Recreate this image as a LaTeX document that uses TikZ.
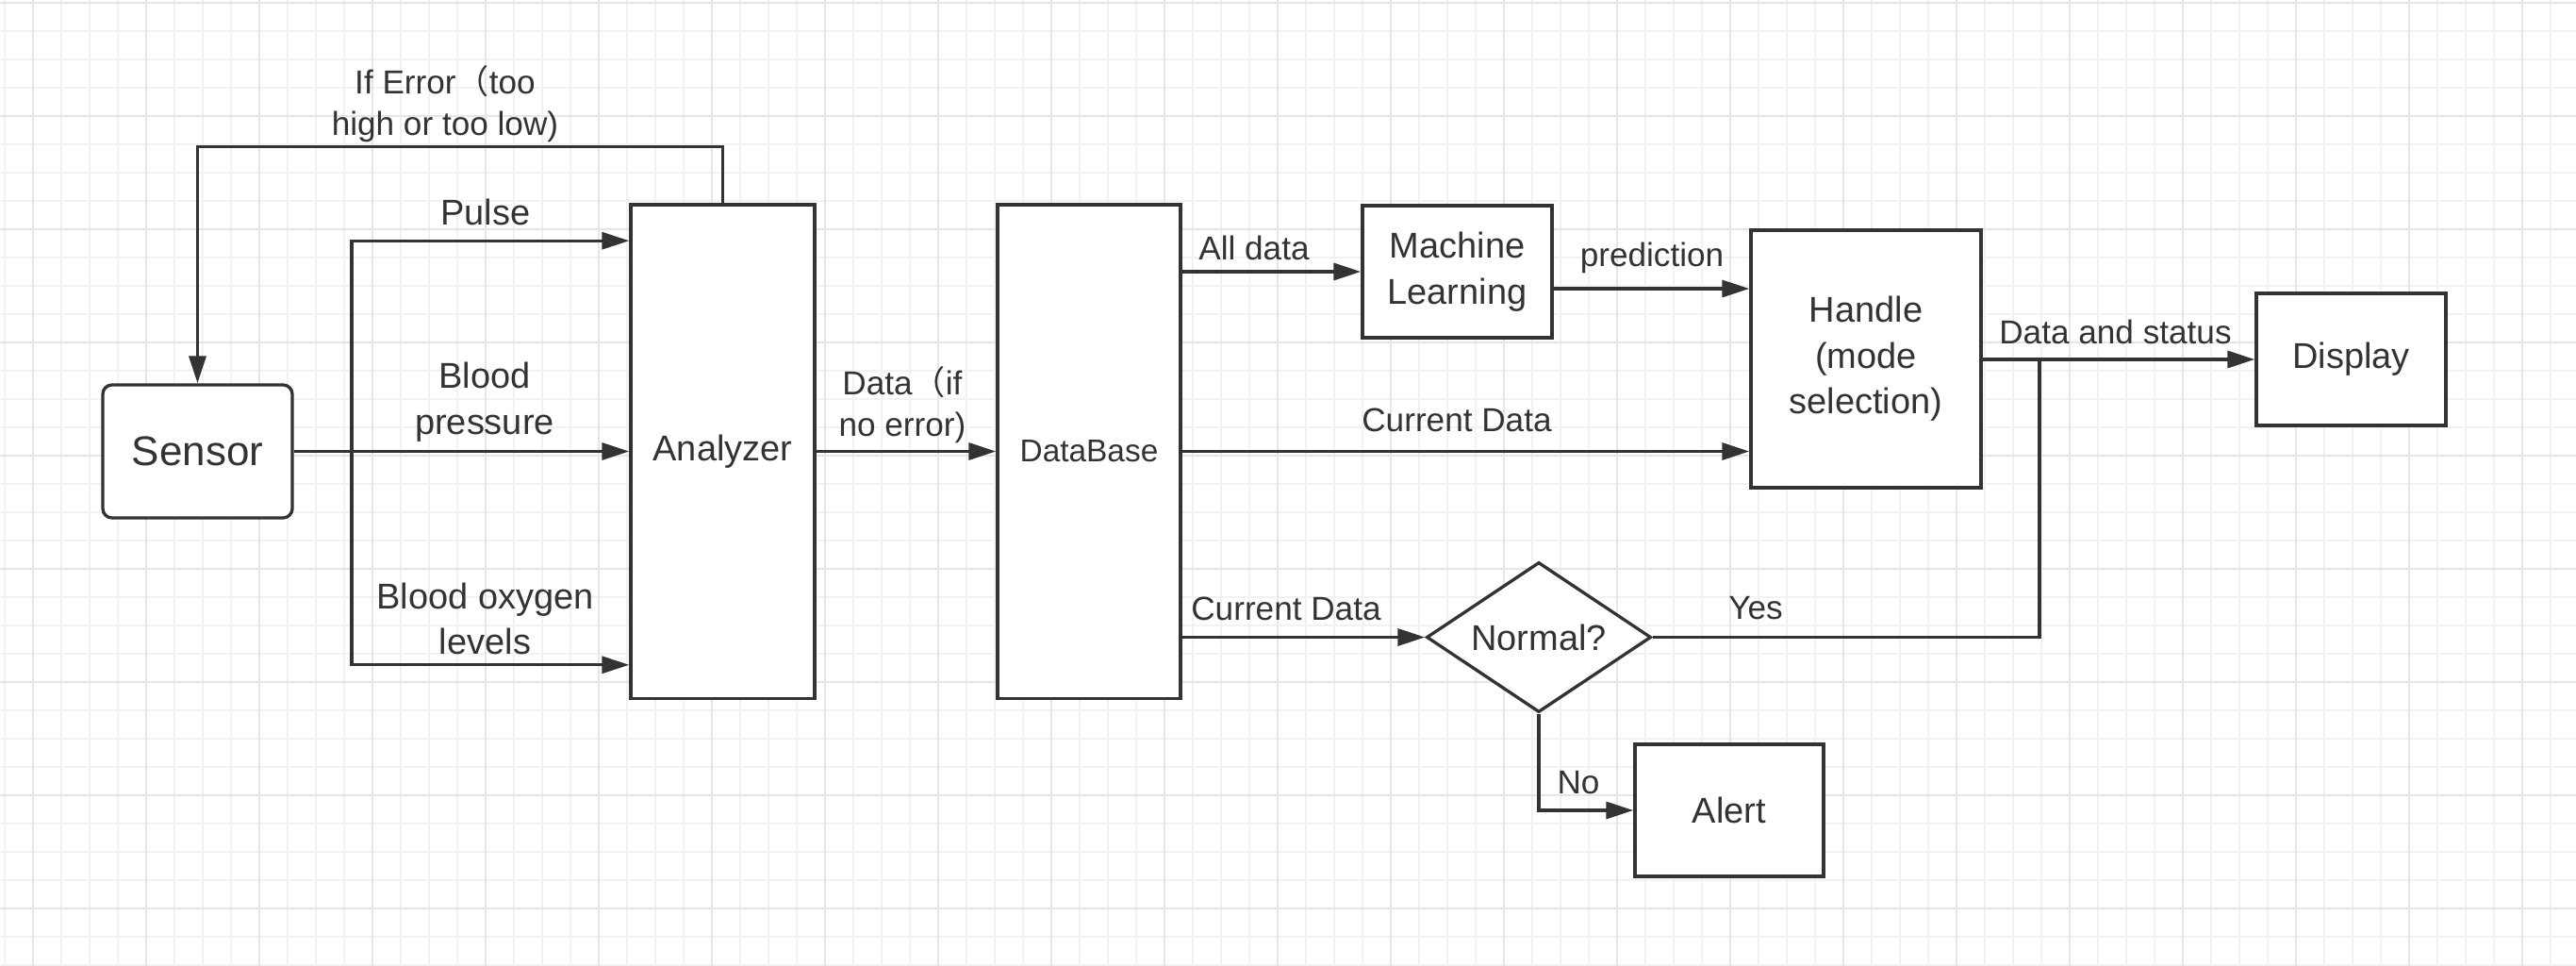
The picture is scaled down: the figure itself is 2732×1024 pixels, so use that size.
\documentclass[tikz,border=0pt]{standalone}
\usepackage{fontspec}
\setmainfont{Liberation Sans}
\newfontfamily\cjk{Noto Sans CJK SC}
\usetikzlibrary{arrows.meta,shapes.geometric}

\definecolor{ink}{HTML}{333333}
\definecolor{gridminor}{HTML}{F2F2F2}
\definecolor{gridmajor}{HTML}{E6E6E6}

\newcommand{\boxfont}{\fontsize{10.8}{13.8}\selectfont}
\newcommand{\lblfont}{\fontsize{10}{12.5}\selectfont}

\tikzset{
  box/.style={draw=ink, line width=0.033cm, fill=white, inner sep=0pt,
    text=ink, align=center, font=\boxfont},
  flow/.style={draw=ink, line width=0.033cm,
    -{Triangle[length=0.29cm,width=0.18cm]}},
  wire/.style={draw=ink, line width=0.033cm},
  lbl/.style={text=ink, align=center, inner sep=0pt, font=\lblfont},
}

\begin{document}
\begin{tikzpicture}[x=0.01cm,y=-0.01cm]
\useasboundingbox (0,0) rectangle (2732,1024);
\fill [white] (0,0) rectangle (2732,1024);

% grid paper
\foreach \x in {5,35,...,2705}
  \draw [gridminor, line width=0.02cm] (\x,0) -- (\x,1024);
\foreach \y in {3,33,...,1023}
  \draw [gridminor, line width=0.02cm] (0,\y) -- (2732,\y);
\foreach \x in {35,155,...,2675}
  \draw [gridmajor, line width=0.025cm] (\x,0) -- (\x,1024);
\foreach \y in {3,123,...,963}
  \draw [gridmajor, line width=0.025cm] (0,\y) -- (2732,\y);

% blocks
\node [box, rounded corners=0.1cm, minimum width=2.01cm, minimum height=1.41cm,
  font=\fontsize{12.5}{15}\selectfont] (sensor) at (209.5,478.5) {Sensor};
\node [box, minimum width=1.95cm, minimum height=5.23cm] (analyzer) at (766.5,478.5) {Analyzer};
\node [box, minimum width=1.94cm, minimum height=5.23cm,
  font=\fontsize{9.5}{12}\selectfont] (database) at (1155,478.5) {DataBase};
\node [box, minimum width=2.01cm, minimum height=1.40cm] (ml) at (1545.5,288) {Machine\\Learning};
\node [box, minimum width=2.44cm, minimum height=2.73cm] (handle) at (1979,380.5) {Handle\\(mode\\selection)};
\node [box, minimum width=2.01cm, minimum height=1.40cm] (display) at (2493.5,381) {Display};
\node [box, diamond, aspect=1.5, minimum width=2.38cm, minimum height=1.59cm] (normal) at (1632,675.5) {Normal?};
\node [box, minimum width=2.00cm, minimum height=1.40cm] (alert) at (1834,859) {Alert};

% connectors
\coordinate (split) at (373,478.5);
\coordinate (join) at (2163,381);
\draw [flow] (sensor.east) -- (analyzer.west);
\draw [flow] (split) |- ([yshift=-0.40cm]analyzer.north west);
\draw [flow] (split) |- ([yshift=0.37cm]analyzer.south west);
\draw [flow] (analyzer.north) -- ++(0,-60) -| (sensor.north);
\draw [flow] (analyzer.east) -- (database.west);
\draw [flow] (database.east |- ml.west) -- (ml.west);
\draw [flow] ([yshift=-0.18cm]ml.east) -- ([yshift=-0.18cm]ml.east -| handle.west);
\draw [flow] (database.east) -- (database.east -| handle.west);
\draw [flow] (database.east |- normal.west) -- (normal.west);
\draw [flow] (handle.east |- display.west) -- (display.west);
\draw [flow] (normal.south) |- (alert.west);
\draw [wire] (normal.east) -| (join);

% labels
\node [lbl] (errlbl) at (472,110) {If Error{\cjk （}too\\high or too low)};
\node [lbl, font=\boxfont] (pulselbl) at (515,225) {Pulse};
\node [lbl, font=\boxfont] (bplbl) at (514,426) {Blood\\pressure};
\node [lbl, font=\boxfont] (oxlbl) at (514.5,656) {Blood oxygen\\levels};
\node [lbl] (datalbl) at (957,429) {Data{\cjk （}if\\no error)};
\node [lbl] (alllbl) at (1330,263) {All data};
\node [lbl] (predlbl) at (1752,273) {prediction};
\node [lbl] (curlbl) at (1545,445) {Current Data};
\node [lbl] (curlowlbl) at (1364,645) {Current Data};
\node [lbl] (statuslbl) at (2243.5,352) {Data and status};
\node [lbl] (yeslbl) at (1862,645) {Yes};
\node [lbl] (nolbl) at (1674,830) {No};
\end{tikzpicture}
\end{document}
